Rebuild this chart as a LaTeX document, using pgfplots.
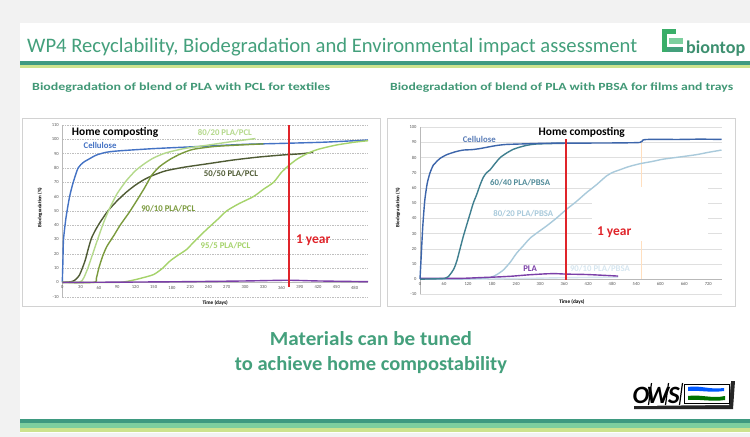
\documentclass[border=0pt]{standalone}
\usepackage{pgfplots}
\pgfplotsset{compat=1.18}
\usepackage{fontspec}
\setmainfont{Carlito}
\usepackage{graphicx}

\definecolor{slidegreen}{HTML}{44A07C}
\definecolor{bardark}{HTML}{3E9A80}
\definecolor{barmid}{HTML}{7DCF9E}
\definecolor{barlight}{HTML}{CDE38D}
\definecolor{yearred}{HTML}{E0242A}
\definecolor{lcell}{HTML}{4472C4}
\definecolor{leighty}{HTML}{B4D98B}
\definecolor{lfifty}{HTML}{4F5B34}
\definecolor{lninety}{HTML}{7A9A3C}
\definecolor{lninetyfive}{HTML}{A5D36A}
\definecolor{pla}{HTML}{7B3FA8}
\definecolor{rcell}{HTML}{3C65AA}
\definecolor{rsixty}{HTML}{3F7F8F}
\definecolor{reighty}{HTML}{A9CADB}
\definecolor{rninety}{HTML}{D6E6F0}

\pgfplotsset{
  chart/.style={
    scale only axis,
    axis y line*=left,
    axis x line*=middle,
    x axis line style={gray!55,-},
    y axis line style={gray!55,-},
    major tick length=0pt,
    hide obscured x ticks=false,
    hide obscured y ticks=false,
    tick label style={font=\fontsize{4.6}{5}\selectfont, text=black!65},
    /pgf/number format/assume math mode=true,
    ymajorgrids,
    clip=false,
    every axis plot/.append style={line width=1.4bp, smooth, tension=0.4},
  },
}

\begin{document}
\begin{tikzpicture}
\path[use as bounding box] (0,0) rectangle (750bp,-437bp);
\begin{scope}[x=1bp,y=-1bp]
  % slide background
  \fill[gray!10] (0,0) rectangle (750,437);
  \fill[white] (20,23) rectangle (750,433);
  % header
  \node[anchor=base west, inner sep=0, text=slidegreen] at (27,52)
    {\resizebox{610bp}{!}{\fontsize{21}{24}\selectfont WP4 Recyclability, Biodegradation and Environmental impact assessment}};
  \fill[bardark] (20,61) rectangle (750,65);
  \fill[barlight] (20,65) rectangle (750,68);
  % biontop logo
  \fill[slidegreen!85!green] (662,29) rectangle (676,34);
  \fill[slidegreen!85!green] (662,34) rectangle (667,52);
  \fill[barmid] (669,38) rectangle (683,44);
  \fill[slidegreen] (667,47) rectangle (683,52);
  \node[anchor=base west, inner sep=0, text=slidegreen!90!black] at (686,53)
    {\resizebox{59bp}{\height}{\fontsize{18}{19}\selectfont\bfseries biontop}};
  % subtitles
  \node[anchor=base west, inner sep=0, text=slidegreen!95!black] at (32,90)
    {\resizebox{298bp}{\height}{\fontsize{11}{12}\selectfont\bfseries Biodegradation of blend of PLA with PCL for textiles}};
  \node[anchor=base west, inner sep=0, text=slidegreen!95!black] at (390,90)
    {\resizebox{343bp}{\height}{\fontsize{11}{12}\selectfont\bfseries Biodegradation of blend of PLA with PBSA for films and trays}};
  % chart frames
  \draw[gray!35, line width=0.6bp] (22,118) rectangle (380,306);
  \draw[gray!35, line width=0.6bp] (387,118) rectangle (735,306);
  % conclusion text
  \node[text=slidegreen, anchor=base, inner sep=0] at (371,345)
    {\resizebox{202bp}{\height}{\fontsize{20}{24}\selectfont\bfseries Materials can be tuned}};
  \node[text=slidegreen, anchor=base, inner sep=0] at (371,370)
    {\resizebox{272bp}{\height}{\fontsize{20}{24}\selectfont\bfseries to achieve home compostability}};
  % OWS logo
  \fill[black!85] (636,384) -- (735,381) -- (733,409) -- (634,409) -- cycle;
  \fill[white] (633,382) -- (731,380) -- (729,405) -- (633,406) -- cycle;
  \node[anchor=base, inner sep=0, font=\fontsize{25}{25}\selectfont\bfseries\itshape] at (641,403) {O};
  \node[anchor=base, inner sep=0, font=\fontsize{25}{25}\selectfont\bfseries\itshape] at (658,403) {W};
  \node[anchor=base, inner sep=0, font=\fontsize{25}{25}\selectfont\bfseries\itshape] at (674,403) {S};
  \foreach \bx in {650,667,681} \draw[black, line width=1.2bp] (\bx+1.5,383) -- (\bx-1.5,405);
  \draw[black, line width=0.8bp] (684,384) rectangle (729,403);
  \fill[blue!65!cyan] (688,387) .. controls (700,385) and (710,390) .. (724,388) -- (724,391) .. controls (710,393) and (700,390) .. (688,391) -- cycle;
  \fill[green!45!black] (688,396) .. controls (700,394) and (712,399) .. (725,396) -- (725,400) .. controls (712,402) and (700,399) .. (688,400) -- cycle;
  % footer bars
  \fill[bardark] (20,419) rectangle (750,423);
  \fill[barmid] (20,423) rectangle (750,428);
  \fill[barlight] (20,428) rectangle (750,432);
\end{scope}

% ---------- left chart: PLA/PCL ----------
\begin{axis}[chart,
  at={(62.3bp,-296.7bp)}, anchor=south west,
  width=305.7bp, height=171.7bp,
  xmin=0, xmax=502, ymin=-10, ymax=110,
  xtick={0,30,...,480}, ytick={-10,0,...,110},
  grid style={gray!50, dash pattern=on 1.5bp off 1bp, line width=0.4bp},
]
\addplot[lcell] coordinates {(0,0) (1,15) (2,30) (6,45) (12,60) (18,70) (26,80) (35,84) (43,86) (56,89) (73,91) (95,92) (150,93.5) (200,94.5) (250,95.5) (300,96.5) (365,97.2) (430,98) (502,99.5)};
\addplot[lfifty] coordinates {(0,0) (15,0.5) (22,2) (28,5) (33,10) (38,16) (43,24) (48,31) (55,37) (62,42) (75,50) (90,57) (105,63) (120,68) (135,72) (150,75) (170,78) (200,80.5) (240,83) (280,85.5) (320,87.5) (360,89) (395,90) (412,91)};
\addplot[leighty] coordinates {(0,0) (28,0) (35,3) (42,10) (50,20) (58,30) (68,42) (78,52) (90,62) (105,71) (120,78) (135,83) (150,87) (170,90.5) (200,93.5) (240,96) (280,98.5) (317,100.5)};
\addplot[lninety] coordinates {(0,0) (52,0) (56,3) (60,10) (66,18) (73,25) (85,33) (95,40) (110,49) (122,57) (135,66) (147,75) (160,81) (177,86) (195,90) (215,93) (250,95) (290,96) (330,96.8)};
\addplot[lninetyfive] coordinates {(0,0) (90,0) (110,1) (130,3) (150,5.5) (165,10) (177,15) (190,19) (204,23) (220,30) (237,37) (255,44) (270,50) (290,55) (314,60) (330,65) (347,70) (360,77) (370,81) (385,86) (402,90) (420,93) (450,96) (480,98) (502,99)};
\addplot[pla] coordinates {(0,0) (100,0.2) (200,0.5) (300,1) (370,1.5) (420,1) (502,0.5)};
\addplot[yearred, line width=2bp, sharp plot] coordinates {(372,-3) (372,110)};
\node[anchor=west, font=\fontsize{11.5}{12}\selectfont\bfseries] at (axis cs:10,105) {Home composting};
\node[text=lcell, font=\fontsize{8.8}{9}\selectfont\bfseries] at (axis cs:62,96) {Cellulose};
\node[text=leighty, font=\fontsize{8.8}{9}\selectfont\bfseries] at (axis cs:267,104.6) {80/20 PLA/PCL};
\node[text=lfifty, font=\fontsize{8.8}{9}\selectfont\bfseries] at (axis cs:277,75.8) {50/50 PLA/PCL};
\node[text=lninety, font=\fontsize{8.8}{9}\selectfont\bfseries] at (axis cs:174,51.6) {90/10 PLA/PCL};
\node[text=lninetyfive, font=\fontsize{8.8}{9}\selectfont\bfseries] at (axis cs:268,25.8) {95/5 PLA/PCL};
\node[text=yearred, font=\fontsize{13.5}{15}\selectfont\bfseries] at (axis cs:412,29.3) {1 year};
\node[rotate=90, font=\fontsize{5}{6}\selectfont\bfseries] at (axis description cs:-0.073,0.52) {Biodegradation (\%)};
\node[font=\fontsize{5.3}{6}\selectfont\bfseries] at (axis description cs:0.5,-0.035) {Time (days)};
\end{axis}

% ---------- right chart: PLA/PBSA ----------
\begin{axis}[chart,
  at={(420bp,-294.3bp)}, anchor=south west,
  width=301.5bp, height=167bp,
  xmin=0, xmax=753, ymin=-10, ymax=100,
  xtick={0,60,...,720}, ytick={-10,0,...,100},
  grid style={gray!25, line width=0.4bp},
]
\addplot[orange!25, line width=0.6bp, sharp plot] coordinates {(553,0) (553,90)};
\fill[white] (axis cs:430,25) rectangle (axis cs:720,61);
\addplot[rninety] coordinates {(0,0) (150,0) (250,0.4) (350,0.9) (495,1.3)};
\addplot[reighty] coordinates {(0,0) (100,0) (150,0.5) (175,1) (192,3) (208,6) (225,11) (241,17) (258,22) (275,27) (295,31) (316,35) (340,40) (366,46) (390,51) (416,57) (440,62) (466,68) (483,70.5) (499,72) (520,74) (549,76) (580,77.5) (607,79) (650,80.5) (691,82) (720,83.5) (753,85)};
\addplot[pla] coordinates {(0,0.5) (100,0.5) (150,1) (200,1.5) (233,2) (270,2.8) (316,3.5) (340,3.6) (366,3.3) (420,3) (495,2)};
\addplot[rsixty] coordinates {(0,0) (62,0.5) (75,3) (85,7) (92,12) (100,20) (108,28) (117,36) (125,43) (133,50) (142,56) (150,62) (158,67) (166,70) (175,72) (187,76) (200,80) (216,83) (233,85.5) (250,87) (270,88.3) (291,89) (330,89.3) (366,89.5)};
\addplot[rcell] coordinates {(0,0) (3,15) (7,35) (12,52) (18,63) (25,70) (33,75) (40,77) (50,79.5) (67,82) (90,84) (108,85) (130,85.3) (150,86) (170,87) (191,88) (215,88.7) (250,89) (316,89.5) (400,89.6) (483,89.7) (549,90) (556,91.5) (570,92) (650,92) (700,92.2) (753,92)};
\addplot[yearred, line width=2bp, sharp plot] coordinates {(365,-0.5) (365,92.5)};
\node[font=\fontsize{11.5}{12}\selectfont\bfseries] at (axis cs:404,96.5) {Home composting};
\node[text=rcell!85!white, font=\fontsize{8.8}{9}\selectfont\bfseries] at (axis cs:148,92.1) {Cellulose};
\node[text=rsixty!90!white, font=\fontsize{8.8}{9}\selectfont\bfseries] at (axis cs:250,63.6) {60/40 PLA/PBSA};
\node[text=reighty, font=\fontsize{8.8}{9}\selectfont\bfseries] at (axis cs:258,43) {80/20 PLA/PBSA};
\node[text=pla, font=\fontsize{8.8}{9}\selectfont\bfseries] at (axis cs:275,7.2) {PLA};
\node[text=rninety, font=\fontsize{8.8}{9}\selectfont\bfseries] at (axis cs:449.5,6.6) {90/10 PLA/PBSA};
\node[text=yearred, font=\fontsize{13.5}{15}\selectfont\bfseries] at (axis cs:485,30.7) {1 year};
\node[rotate=90, font=\fontsize{5}{6}\selectfont\bfseries] at (axis description cs:-0.073,0.52) {Biodegradation (\%)};
\node[font=\fontsize{5.3}{6}\selectfont\bfseries] at (axis description cs:0.504,-0.046) {Time (days)};
\end{axis}
\end{tikzpicture}
\end{document}
